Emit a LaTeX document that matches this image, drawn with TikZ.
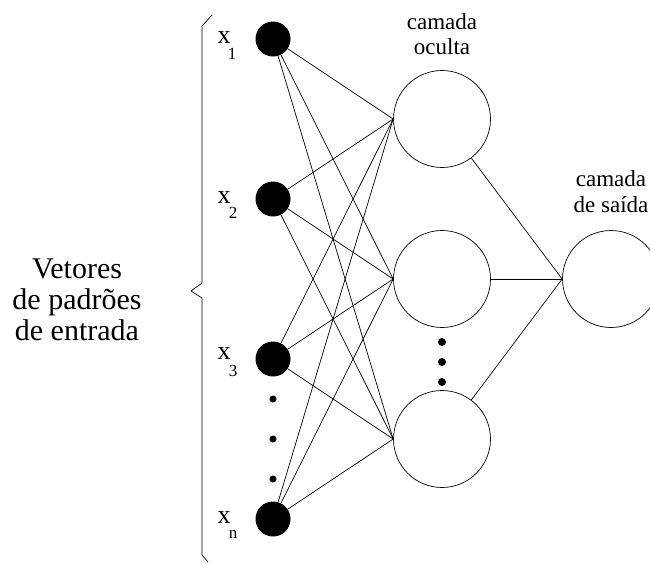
\documentclass[tikz,border=0pt]{standalone}
\usepackage{fontspec}
\setmainfont{Liberation Serif}

\begin{document}
\begin{tikzpicture}[x=1pt,y=-1pt,line width=.7pt,
    inp/.style={circle,fill=black,inner sep=0,minimum size=35pt},
    hid/.style={circle,draw,inner sep=0,minimum size=97pt},
    dot/.style={circle,fill=black,inner sep=0,minimum size=7pt},
    lbl/.style={inner sep=0,font=\fontsize{26}{28}\selectfont},
    sub/.style={inner sep=0,font=\fontsize{17}{19}\selectfont}]
\useasboundingbox (0,0) rectangle (650,563);
% input layer
\node (i1) [inp] at (273,39) {};
\node (i2) [inp] at (273,199) {};
\node (i3) [inp] at (273,359) {};
\node (in) [inp] at (273,519) {};
\node (d1) [dot] at (273,399) {};
\node (d2) [dot] at (273,439) {};
\node (d3) [dot] at (273,479) {};
\node (lx1) [lbl] at (224,38) {x};  \node (ls1) [sub] at (232,54) {1};
\node (lx2) [lbl] at (224,198) {x}; \node (ls2) [sub] at (233,213) {2};
\node (lx3) [lbl] at (224,354) {x}; \node (ls3) [sub] at (233,371) {3};
\node (lxn) [lbl] at (224,518) {x}; \node (lsn) [sub] at (233,534) {n};
% hidden and output layer
\node (h1) [hid] at (442,119) {};
\node (h2) [hid] at (442,279) {};
\node (h3) [hid] at (442,439) {};
\node (e1) [dot,minimum size=8pt] at (442,342) {};
\node (e2) [dot,minimum size=8pt] at (442,362) {};
\node (e3) [dot,minimum size=8pt] at (442,382) {};
\node (o) [hid] at (611,279) {};
\node (ho) [align=center,font=\fontsize{23}{25}\selectfont] at (442,34) {camada\\oculta};
\node (so) [align=center,font=\fontsize{23}{26}\selectfont] at (611,192) {camada\\de saída};
\node (vp) [align=center,font=\fontsize{30}{31}\selectfont] at (77,300) {Vetores\\de padrões\\de entrada};
% brace
\draw (212,15) -- (202,26) -- (202,283) -- (191,291) -- (202,298) -- (202,555) -- (208,562);
% connections
\draw (i1) -- (h1.west); \draw (i1) -- (h2.west); \draw (i1) -- (h3.west);
\draw (i2) -- (h1.west); \draw (i2) -- (h2.west); \draw (i2) -- (h3.west);
\draw (i3) -- (h1.west); \draw (i3) -- (h2.west); \draw (i3) -- (h3.west);
\draw (in) -- (h1.west); \draw (in) -- (h2.west); \draw (in) -- (h3.west);
\draw (h1) -- (o.west);
\draw (h2) -- (o.west);
\draw (h3) -- (o.west);
\end{tikzpicture}
\end{document}
